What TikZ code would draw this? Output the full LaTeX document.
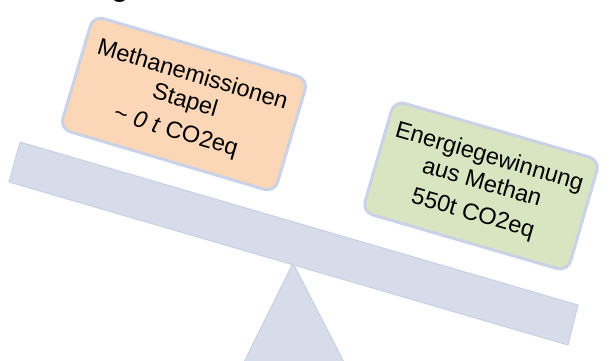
\documentclass[tikz,border=0pt]{standalone}
\usepackage{fontspec}
\setmainfont{Liberation Sans}
\definecolor{beamfill}{HTML}{D6DCE9}
\definecolor{beamline}{HTML}{C8D1E4}
\definecolor{peach}{HTML}{FBD6B7}
\definecolor{olive}{HTML}{D9E5C1}
\definecolor{boxline}{HTML}{C9D2E6}
\tikzset{
  wbox/.style={rectangle, rounded corners=11pt, draw=boxline, line width=3pt,
    align=center, inner sep=2pt, font=\fontsize{23.5}{27}\selectfont},
  beamstyle/.style={fill=beamfill, draw=beamline, line width=1pt, line join=round}
}
\begin{document}
\begin{tikzpicture}[x=1pt,y=-1pt]
\useasboundingbox (0,0) rectangle (609,360);
\begin{scope}
\clip (0,0) rectangle (609,360);
\node[anchor=base, font=\bfseries\fontsize{28}{30}\selectfont, inner sep=0pt] (frag) at (120,-3.5) {g};
% fulcrum
\coordinate (apex) at (293,263);
\coordinate (bl) at (242,366);
\coordinate (br) at (346,366);
\draw[beamstyle] (apex) -- (br) -- (bl) -- cycle;
% beam
\coordinate (b1) at (20,142);
\coordinate (b2) at (578,305);
\coordinate (b3) at (568,345);
\coordinate (b4) at (9,182);
\draw[beamstyle] (b1) -- (b2) -- (b3) -- (b4) -- cycle;
\end{scope}
% boxes
\node[wbox, fill=peach, rotate=-16.5, minimum width=224pt, minimum height=118pt] (left) at (184,104)
  {Methanemissionen\\Stapel\\[5pt]\textasciitilde\ \textit{0 t} CO2eq};
\node[wbox, fill=olive, rotate=-16.2, minimum width=214pt, minimum height=116pt] (right) at (481,186)
  {Energiegewinnung\\aus Methan\\[5pt]550t CO2eq};
\end{tikzpicture}
\end{document}
